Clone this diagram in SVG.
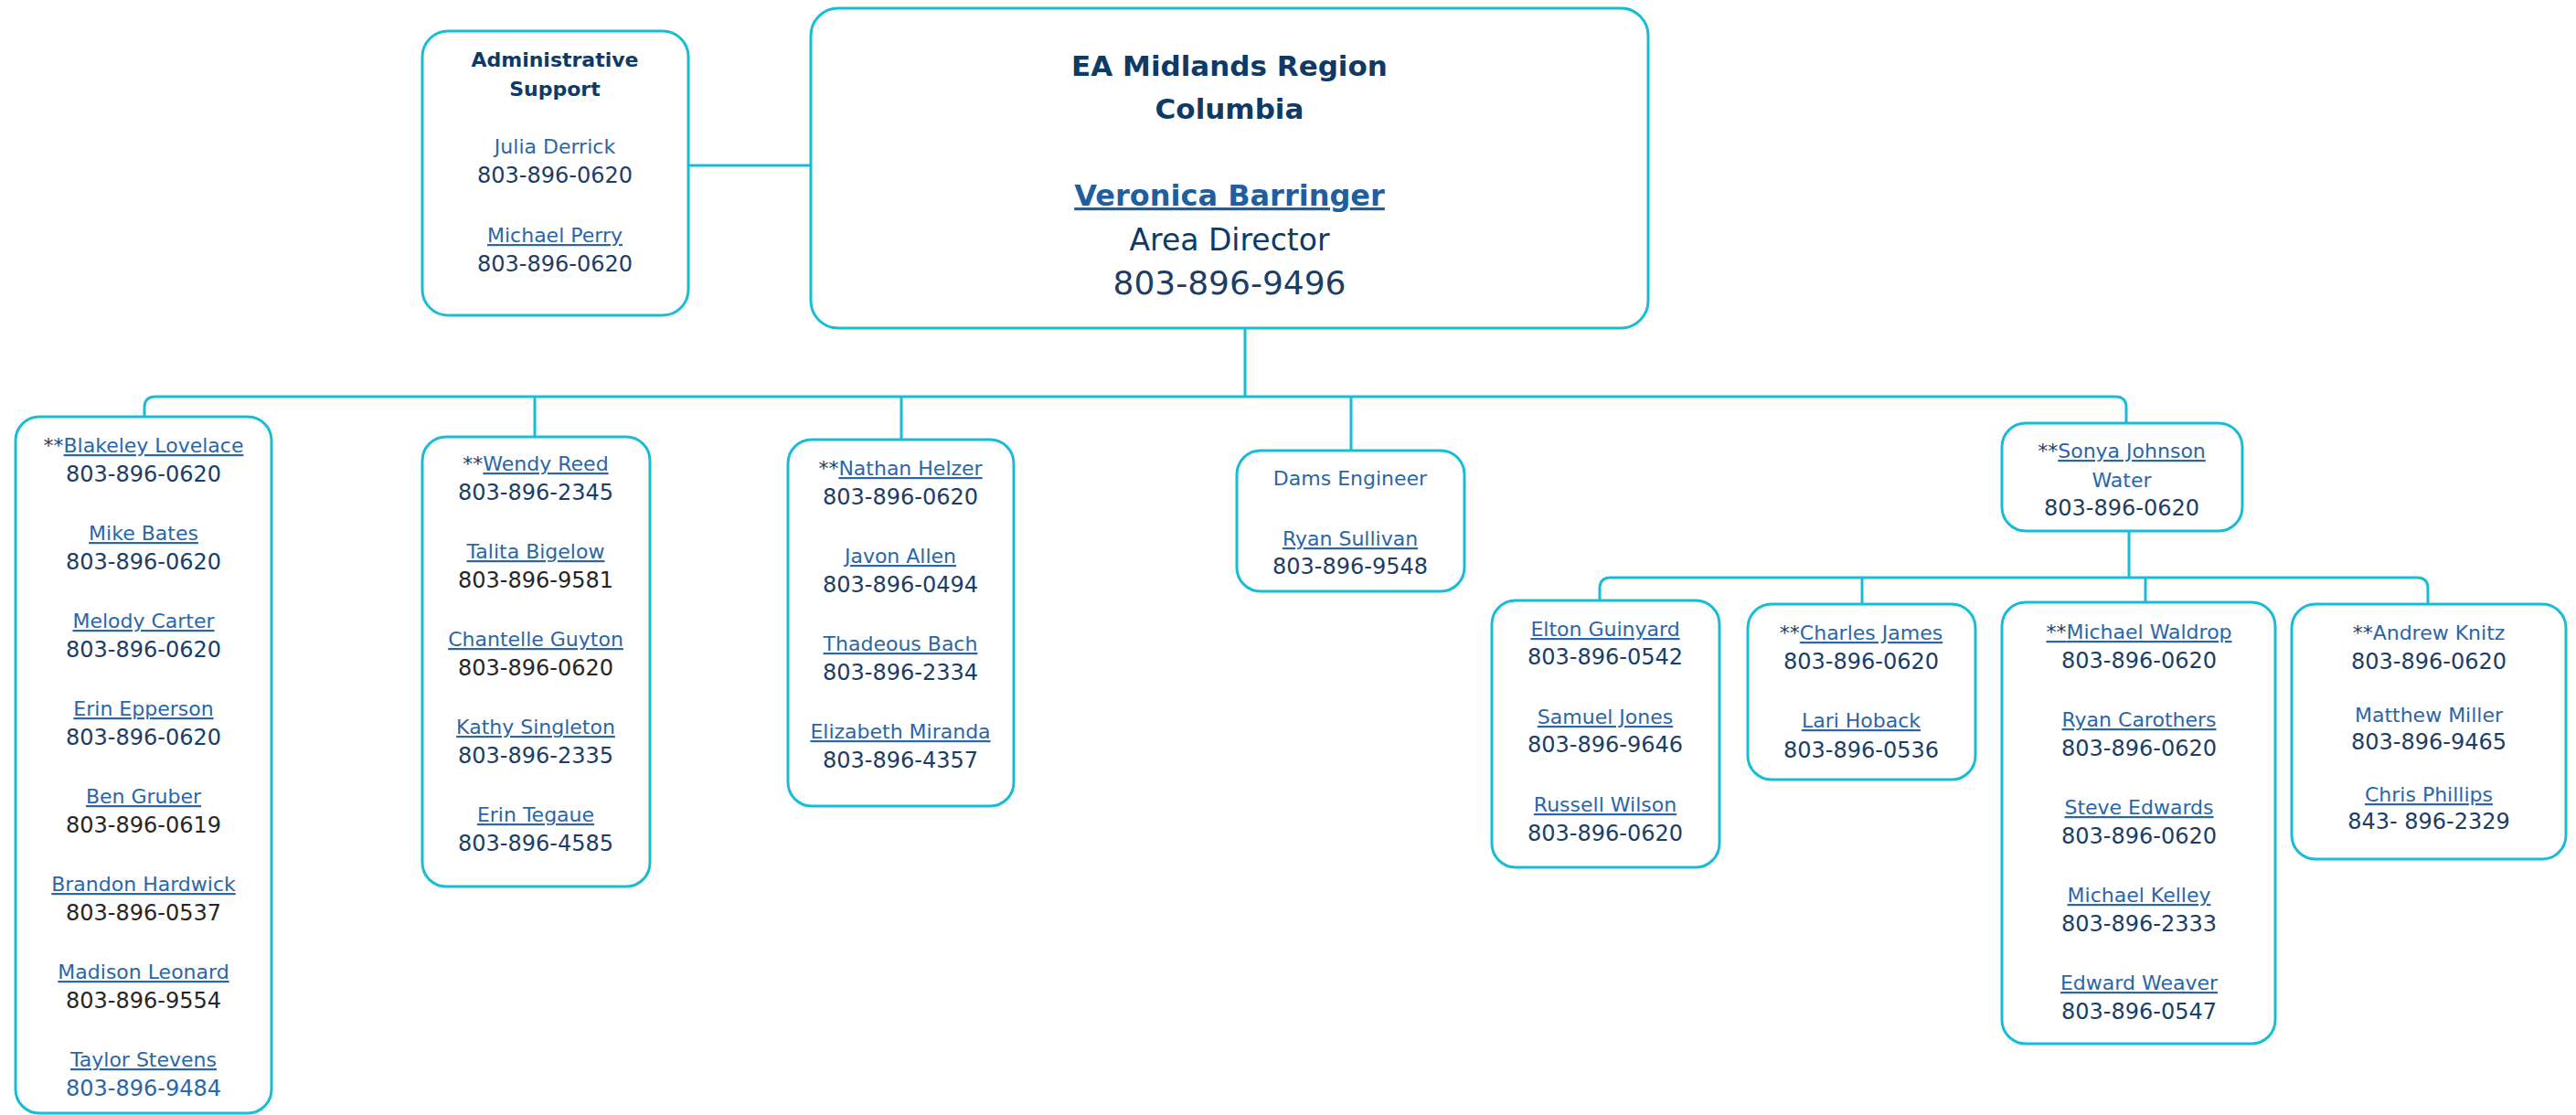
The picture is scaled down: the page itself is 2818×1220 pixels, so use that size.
<svg xmlns="http://www.w3.org/2000/svg" width="2818" height="1220" viewBox="0 0 2818 1220">
<style>
.box{fill:#ffffff;stroke:#17bdd6;stroke-width:3}
.conn{fill:none;stroke:#17bdd6;stroke-width:3}
text{font-family:"DejaVu Sans",sans-serif;text-anchor:middle}
.nm{font-size:22px;fill:#2a66a8}
.u{text-decoration:underline}
.ph{font-size:24px;fill:#1b3d66}
.bk{fill:#262626}
.bl{fill:#2a66a8}
.ast{fill:#1b3d66}
.ttl{font-weight:bold;fill:#0d3a66}
</style>
<rect width="2818" height="1220" fill="#ffffff"/>
<g id="connectors">
<path class="conn" d="M753,181 H887"/>
<path class="conn" d="M1362,359 V434"/>
<path class="conn" d="M158,456 V446 Q158,434 170,434 H2314 Q2326,434 2326,446 V463"/>
<path class="conn" d="M585,434 V478"/>
<path class="conn" d="M986,434 V481"/>
<path class="conn" d="M1478,434 V493"/>
<path class="conn" d="M2329,581 V632"/>
<path class="conn" d="M1750,657 V644 Q1750,632 1762,632 H2644 Q2656,632 2656,644 V661"/>
<path class="conn" d="M2037,632 V661"/>
<path class="conn" d="M2347,632 V659"/>
</g>
<g id="admin-support">
<rect class="box" x="462" y="34" width="291" height="311" rx="28"/>
<text class="ttl" x="607" y="73" font-size="22">Administrative</text>
<text class="ttl" x="607" y="105" font-size="22">Support</text>
<text class="nm" x="607" y="168">Julia Derrick</text>
<text class="ph" x="607" y="200">803-896-0620</text>
<text class="nm u" x="607" y="265">Michael Perry</text>
<text class="ph" x="607" y="297">803-896-0620</text>
</g>
<g id="area-director">
<rect class="box" x="887" y="9" width="916" height="350" rx="30"/>
<text class="ttl" x="1345" y="83" font-size="31">EA Midlands Region</text>
<text class="ttl" x="1345" y="130" font-size="31">Columbia</text>
<text class="u" x="1345" y="225" font-size="32" font-weight="bold" fill="#1f5fa0">Veronica Barringer</text>
<text x="1345" y="274" font-size="33" fill="#0d3a66">Area Director</text>
<text x="1345" y="322" font-size="36" fill="#1b3d66">803-896-9496</text>
</g>
<g id="blakeley-team">
<rect class="box" x="17" y="456" width="280" height="762" rx="26"/>
<text class="nm" x="157" y="495"><tspan class="ast">**</tspan><tspan class="u">Blakeley Lovelace</tspan></text>
<text class="ph" x="157" y="527">803-896-0620</text>
<text class="nm u" x="157" y="591">Mike Bates</text>
<text class="ph" x="157" y="623">803-896-0620</text>
<text class="nm u" x="157" y="687">Melody Carter</text>
<text class="ph" x="157" y="719">803-896-0620</text>
<text class="nm u" x="157" y="783">Erin Epperson</text>
<text class="ph" x="157" y="815">803-896-0620</text>
<text class="nm u" x="157" y="879">Ben Gruber</text>
<text class="ph bk" x="157" y="911">803-896-0619</text>
<text class="nm u" x="157" y="975">Brandon Hardwick</text>
<text class="ph bk" x="157" y="1007">803-896-0537</text>
<text class="nm u" x="157" y="1071">Madison Leonard</text>
<text class="ph bk" x="157" y="1103">803-896-9554</text>
<text class="nm u" x="157" y="1167">Taylor Stevens</text>
<text class="ph bl" x="157" y="1199">803-896-9484</text>
</g>
<g id="wendy-team">
<rect class="box" x="462" y="478" width="249" height="492" rx="26"/>
<text class="nm" x="586" y="515"><tspan class="ast">**</tspan><tspan class="u">Wendy Reed</tspan></text>
<text class="ph" x="586" y="547">803-896-2345</text>
<text class="nm u" x="586" y="611">Talita Bigelow</text>
<text class="ph bk" x="586" y="643">803-896-9581</text>
<text class="nm u" x="586" y="707">Chantelle Guyton</text>
<text class="ph bk" x="586" y="739">803-896-0620</text>
<text class="nm u" x="586" y="803">Kathy Singleton</text>
<text class="ph" x="586" y="835">803-896-2335</text>
<text class="nm u" x="586" y="899">Erin Tegaue</text>
<text class="ph" x="586" y="931">803-896-4585</text>
</g>
<g id="nathan-team">
<rect class="box" x="862" y="481" width="247" height="401" rx="26"/>
<text class="nm" x="985" y="520"><tspan class="ast">**</tspan><tspan class="u">Nathan Helzer</tspan></text>
<text class="ph" x="985" y="552">803-896-0620</text>
<text class="nm u" x="985" y="616">Javon Allen</text>
<text class="ph" x="985" y="648">803-896-0494</text>
<text class="nm u" x="985" y="712">Thadeous Bach</text>
<text class="ph" x="985" y="744">803-896-2334</text>
<text class="nm u" x="985" y="808">Elizabeth Miranda</text>
<text class="ph" x="985" y="840">803-896-4357</text>
</g>
<g id="dams-engineer">
<rect class="box" x="1353" y="493" width="249" height="154" rx="26"/>
<text class="nm" x="1477" y="531">Dams Engineer</text>
<text class="nm u" x="1477" y="597">Ryan Sullivan</text>
<text class="ph" x="1477" y="628">803-896-9548</text>
</g>
<g id="sonya-water">
<rect class="box" x="2190" y="463" width="263" height="118" rx="26"/>
<text class="nm" x="2321" y="501"><tspan class="ast">**</tspan><tspan class="u">Sonya Johnson</tspan></text>
<text class="nm" x="2321" y="533" fill="#1b3d66">Water</text>
<text class="ph" x="2321" y="564">803-896-0620</text>
</g>
<g id="elton-team">
<rect class="box" x="1632" y="657" width="249" height="292" rx="26"/>
<text class="nm u" x="1756" y="696">Elton Guinyard</text>
<text class="ph" x="1756" y="727">803-896-0542</text>
<text class="nm u" x="1756" y="792">Samuel Jones</text>
<text class="ph" x="1756" y="823">803-896-9646</text>
<text class="nm u" x="1756" y="888">Russell Wilson</text>
<text class="ph" x="1756" y="920">803-896-0620</text>
</g>
<g id="charles-team">
<rect class="box" x="1912" y="661" width="249" height="192" rx="26"/>
<text class="nm" x="2036" y="700"><tspan class="ast">**</tspan><tspan class="u">Charles James</tspan></text>
<text class="ph" x="2036" y="732">803-896-0620</text>
<text class="nm u" x="2036" y="796">Lari Hoback</text>
<text class="ph" x="2036" y="829">803-896-0536</text>
</g>
<g id="michael-team">
<rect class="box" x="2190" y="659" width="299" height="483" rx="26"/>
<text class="nm u" x="2340" y="699"><tspan class="ast">**</tspan>Michael Waldrop</text>
<text class="ph" x="2340" y="731">803-896-0620</text>
<text class="nm u" x="2340" y="795">Ryan Carothers</text>
<text class="ph" x="2340" y="827">803-896-0620</text>
<text class="nm u" x="2340" y="891">Steve Edwards</text>
<text class="ph" x="2340" y="923">803-896-0620</text>
<text class="nm u" x="2340" y="987">Michael Kelley</text>
<text class="ph" x="2340" y="1019">803-896-2333</text>
<text class="nm u" x="2340" y="1083">Edward Weaver</text>
<text class="ph" x="2340" y="1115">803-896-0547</text>
</g>
<g id="andrew-team">
<rect class="box" x="2507" y="661" width="300" height="279" rx="26"/>
<text class="nm" x="2657" y="700"><tspan class="ast">**</tspan>Andrew Knitz</text>
<text class="ph" x="2657" y="732">803-896-0620</text>
<text class="nm" x="2657" y="790">Matthew Miller</text>
<text class="ph" x="2657" y="820">803-896-9465</text>
<text class="nm u" x="2657" y="877">Chris Phillips</text>
<text class="ph" x="2657" y="907">843- 896-2329</text>
</g>
</svg>
